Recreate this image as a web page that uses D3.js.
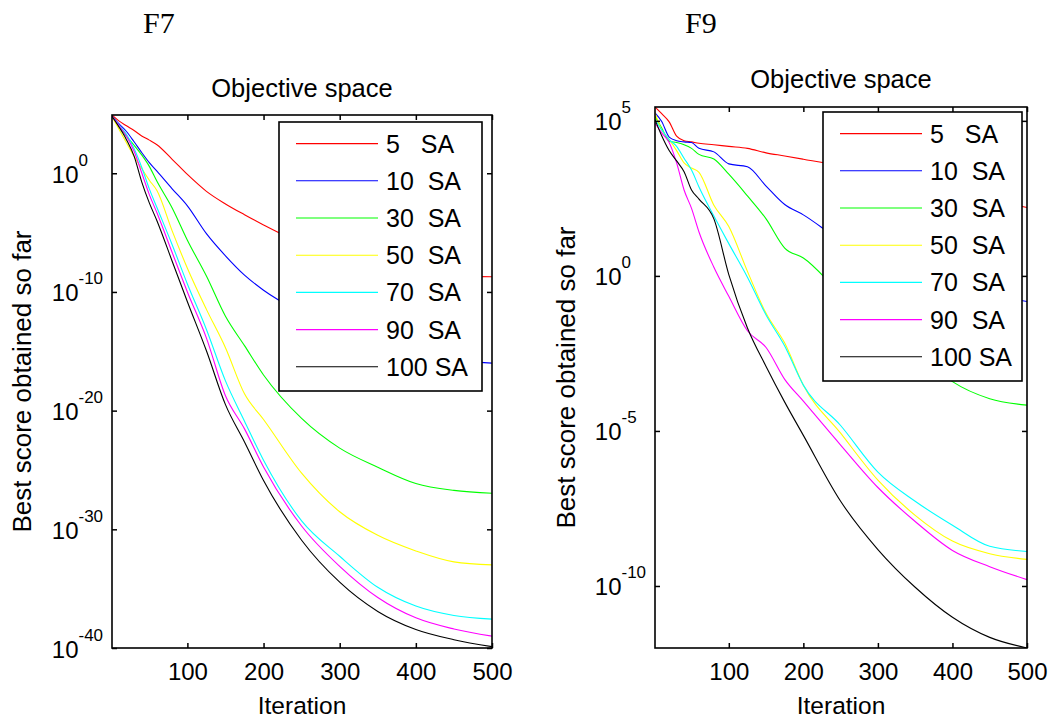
<!DOCTYPE html>
<html>
<head>
<meta charset="utf-8">
<script src="https://cdn.jsdelivr.net/npm/d3@7"></script>
<style>
  body { margin: 0; background: #fff; }
  text { font-family: "Liberation Sans", Arial, sans-serif; fill: #000; }
</style>
</head>
<body>
<div id="chart"></div>
<script>
var iterations = [1, 10, 20, 30, 40, 50, 60, 80, 100, 125, 150, 175, 200, 250, 300, 350, 400, 450, 500];

var seriesLabels = ["5   SA", "10  SA", "30  SA", "50  SA", "70  SA", "90  SA", "100 SA"];
var seriesColors = ["#ff0000", "#0000ff", "#00ff00", "#ffff00", "#00ffff", "#ff00ff", "#000000"];

var xTicks = [100, 200, 300, 400, 500];

// ---- F7 ----
var f7_sa5   = [8.1e4, 2.6e4, 1.0e4, 4.0e3, 1.4e3, 6.2e2, 2.5e2, 1.5e1, 7.9e-1, 3.0e-2, 2.6e-3, 3.2e-4, 4.4e-5, 1.3e-6, 1.3e-7, 1.9e-8, 5.4e-9, 2.5e-9, 1.9e-9];
var f7_sa10  = [6.8e4, 1.5e4, 3.3e3, 4.5e2, 5.6e1, 7.9e0, 1.5e0, 4.9e-2, 1.8e-3, 8.1e-6, 1.1e-7, 2.6e-9, 1.4e-10, 1.7e-12, 5.1e-14, 3.4e-15, 4.9e-16, 1.7e-16, 1.0e-16];
var f7_sa30  = [5.9e4, 9.5e3, 1.3e3, 2.3e2, 3.5e1, 3.8e0, 2.1e-1, 1.2e-3, 2.3e-6, 2.2e-9, 8.9e-13, 3.0e-15, 1.0e-17, 2.2e-21, 6.9e-24, 1.7e-25, 7.2e-27, 1.9e-27, 1.1e-27];
var f7_sa50  = [5.9e4, 5.4e3, 3.7e2, 2.7e1, 2.5e0, 2.6e-1, 3.5e-2, 1.4e-5, 1.0e-8, 3.4e-12, 2.0e-15, 2.6e-19, 1.8e-21, 5.4e-26, 3.0e-29, 3.1e-31, 1.5e-32, 1.8e-33, 1.0e-33];
var f7_sa70  = [6.3e4, 1.2e4, 1.9e3, 1.2e2, 3.2e0, 4.8e-2, 1.3e-3, 9.5e-7, 4.7e-10, 6.9e-14, 3.2e-18, 1.3e-21, 6.6e-25, 5.2e-30, 5.4e-33, 1.3e-35, 3.4e-37, 5.5e-38, 2.7e-38];
var f7_sa90  = [6.3e4, 1.1e4, 1.3e3, 7.1e1, 1.1e0, 1.6e-2, 4.7e-4, 2.1e-7, 1.0e-10, 1.3e-14, 1.8e-19, 2.9e-22, 1.8e-25, 1.9e-30, 7.6e-34, 1.8e-36, 3.5e-38, 4.0e-39, 1.0e-39];
var f7_sa100 = [6.3e4, 8.3e3, 6.8e2, 2.8e1, 1.9e-1, 3.2e-3, 1.0e-4, 3.9e-8, 1.5e-11, 1.1e-15, 3.2e-20, 2.3e-23, 1.3e-26, 1.2e-31, 3.5e-35, 1.2e-37, 3.6e-39, 5.0e-40, 1.3e-40];
var f7TickExponents = [0, -10, -20, -30, -40];
var f7Range = [1e-40, 8.1e4];

// ---- F9 ----
var f9_sa5   = [2.8e5, 1.7e5, 9.3e4, 3.2e4, 2.3e4, 2.1e4, 1.9e4, 1.7e4, 1.5e4, 1.3e4, 9.3e3, 7.4e3, 5.8e3, 3.5e3, 1.9e3, 1.1e3, 5.9e2, 3.0e2, 1.6e2];
var f9_sa10  = [1.8e5, 9.5e4, 3.0e4, 2.3e4, 2.1e4, 2.0e4, 1.3e4, 1.0e4, 4.1e3, 3.3e3, 7.9e2, 2.0e2, 9.3e1, 1.4e1, 3.8e0, 1.2e0, 4.7e-1, 2.4e-1, 1.5e-1];
var f9_sa30  = [1.4e5, 5.9e4, 2.2e4, 2.0e4, 1.7e4, 1.3e4, 8.3e3, 5.9e3, 1.9e3, 3.8e2, 6.9e1, 7.9e0, 3.8e0, 2.8e-1, 3.5e-2, 4.1e-3, 3.9e-4, 1.1e-4, 6.8e-5];
var f9_sa50  = [1.8e5, 5.1e4, 2.5e4, 1.1e4, 4.4e3, 3.0e3, 2.2e3, 1.9e2, 3.9e1, 1.4e0, 6.2e-2, 6.8e-3, 3.0e-4, 8.5e-6, 2.6e-7, 1.9e-8, 2.8e-9, 1.1e-9, 7.2e-10];
var f9_sa70  = [1.1e5, 5.1e4, 2.5e4, 1.5e4, 6.2e3, 2.6e3, 7.4e2, 8.5e1, 1.1e1, 9.1e-1, 5.5e-2, 5.5e-3, 3.0e-4, 1.5e-5, 4.7e-7, 5.4e-8, 9.1e-9, 1.9e-9, 1.3e-9];
var f9_sa90  = [8.5e4, 4.1e4, 2.0e4, 4.4e3, 5.9e2, 1.5e2, 2.6e1, 1.9e0, 2.2e-1, 1.7e-2, 4.9e-3, 4.6e-4, 9.1e-5, 3.5e-6, 1.5e-7, 1.2e-8, 1.4e-9, 4.2e-10, 1.6e-10];
var f9_sa100 = [1.1e5, 3.3e4, 1.1e4, 5.1e3, 2.3e3, 5.9e2, 3.0e2, 6.9e1, 1.1e0, 2.1e-2, 1.2e-3, 8.5e-5, 7.2e-6, 5.4e-8, 1.5e-9, 9.1e-11, 9.8e-12, 2.2e-12, 1.0e-12];
var f9TickExponents = [5, 0, -5, -10];
var f9Range = [1e-12, 2.8e5];


var svg = d3.select("#chart").append("svg")
  .attr("width", 1064)
  .attr("height", 721)
  .style("background", "#fff");

function drawPanel(p)
{
  var x = d3.scaleLinear().domain([1, 500]).range([p.left, p.right]);
  var y = d3.scaleLog().domain(p.range).range([p.bottom, p.top]);
  var w = p.right - p.left, h = p.bottom - p.top;
  var g = svg.append("g");

  // panel name (F7 / F9)
  g.append("text")
    .attr("x", p.nameX).attr("y", 33)
    .style("font-family", "'Liberation Serif', 'Times New Roman', serif")
    .style("font-size", "30px")
    .text(p.name);

  g.append("text")
    .attr("x", (p.left + p.right) / 2).attr("y", p.titleY)
    .attr("text-anchor", "middle")
    .style("font-size", "25.5px")
    .text("Objective space");

  g.append("clipPath").attr("id", "clip" + p.name)
    .append("rect").attr("x", p.left).attr("y", p.top).attr("width", w).attr("height", h);

  var line = d3.line()
    .x(function(d, i) { return x(iterations[i]); })
    .y(function(d) { return y(d); })
    .curve(d3.curveMonotoneX);

  g.append("g").attr("clip-path", "url(#clip" + p.name + ")")
    .selectAll("path").data(p.series).join("path")
    .attr("d", line)
    .attr("fill", "none")
    .attr("stroke", function(d, i) { return seriesColors[i]; })
    .attr("stroke-width", 1.1);

  // ticks on all four sides, pointing inward
  var yTicks = p.exps.map(function(e) { return Math.pow(10, e); });
  var axes = [
    [d3.axisBottom(x).tickValues(xTicks).tickSizeInner(-5).tickSizeOuter(0).tickPadding(15), 0, p.bottom],
    [d3.axisTop(x).tickValues(xTicks).tickSizeInner(-5).tickSizeOuter(0).tickFormat(""), 0, p.top],
    [d3.axisLeft(y).tickValues(yTicks).tickSizeInner(-5).tickSizeOuter(0).tickFormat(""), p.left, 0],
    [d3.axisRight(y).tickValues(yTicks).tickSizeInner(-5).tickSizeOuter(0).tickFormat(""), p.right, 0]
  ];
  axes.forEach(function(a) {
    var ag = g.append("g").attr("transform", "translate(" + a[1] + "," + a[2] + ")").call(a[0]);
    ag.select(".domain").remove();
    ag.selectAll("line").attr("stroke", "#000").attr("stroke-width", 1.5);
    ag.selectAll("text").style("font-family", "'Liberation Sans', Arial, sans-serif").style("font-size", "24px").attr("fill", "#000");
  });

  g.append("rect")
    .attr("x", p.left).attr("y", p.top).attr("width", w).attr("height", h)
    .attr("fill", "none").attr("stroke", "#000").attr("stroke-width", 1.6);

  // 10^n tick labels
  g.selectAll(".ybase").data(p.exps).join("text")
    .attr("x", p.left - 33.5).attr("y", function(d) { return y(Math.pow(10, d)) + 9.5; })
    .attr("text-anchor", "end")
    .style("font-size", "24px")
    .text("10");
  g.selectAll(".yexp").data(p.exps).join("text")
    .attr("x", p.left - 33.5).attr("y", function(d) { return y(Math.pow(10, d)) - 7.5; })
    .style("font-size", "17px")
    .text(function(d) { return String(d); });

  g.append("text")
    .attr("x", (p.left + p.right) / 2).attr("y", 714)
    .attr("text-anchor", "middle")
    .style("font-size", "24.5px")
    .text("Iteration");

  g.append("text")
    .attr("transform", "translate(" + p.ylabX + "," + ((p.top + p.bottom) / 2) + ") rotate(-90)")
    .attr("text-anchor", "middle")
    .style("font-size", "26px")
    .text("Best score obtained so far");

  // legend
  var lg = g.append("g").attr("transform", "translate(" + p.legendX + "," + p.legendY + ")");
  lg.append("rect")
    .attr("width", p.legendW).attr("height", 269)
    .attr("fill", "#fff").attr("stroke", "#000").attr("stroke-width", 1.6);
  var item = lg.selectAll(".item").data(seriesLabels).join("g")
    .attr("transform", function(d, i) { return "translate(0," + (21.6 + i * 37.2) + ")"; });
  item.append("line")
    .attr("x1", 17).attr("x2", 99)
    .attr("stroke", function(d, i) { return seriesColors[i]; })
    .attr("stroke-width", 1.1);
  item.append("text")
    .attr("x", 107).attr("y", 9)
    .style("font-size", "25px")
    .style("white-space", "pre")
    .attr("xml:space", "preserve")
    .text(function(d) { return d; });
}

drawPanel({
  name: "F7",
  series: [f7_sa5, f7_sa10, f7_sa30, f7_sa50, f7_sa70, f7_sa90, f7_sa100],
  exps: f7TickExponents, range: f7Range,
  left: 112, right: 492, top: 115, bottom: 648,
  nameX: 143, titleY: 97, ylabX: 31,
  legendX: 279, legendY: 122, legendW: 203
});

drawPanel({
  name: "F9",
  series: [f9_sa5, f9_sa10, f9_sa30, f9_sa50, f9_sa70, f9_sa90, f9_sa100],
  exps: f9TickExponents, range: f9Range,
  left: 655, right: 1027, top: 107, bottom: 648,
  nameX: 685, titleY: 88, ylabX: 575,
  legendX: 823, legendY: 112, legendW: 199
});
</script>
</body>
</html>
